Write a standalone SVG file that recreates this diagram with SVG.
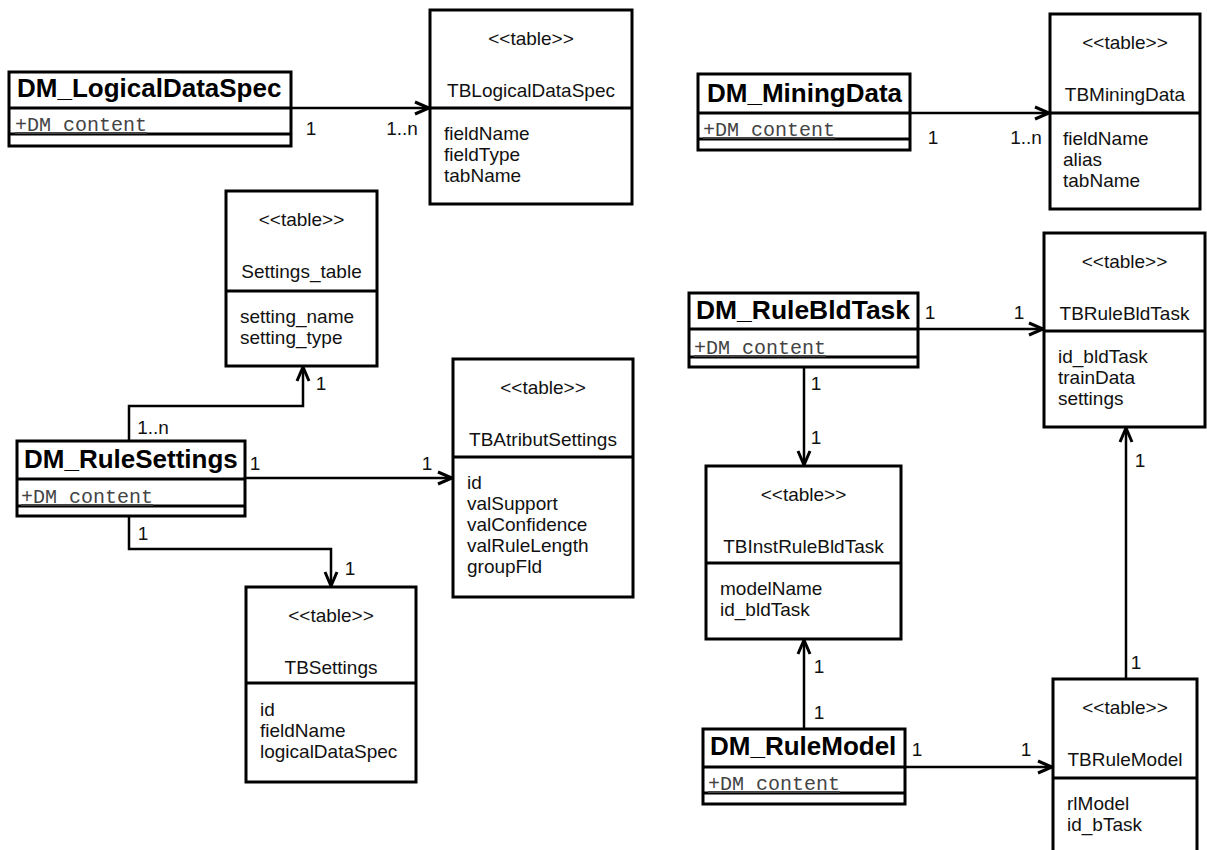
<svg xmlns="http://www.w3.org/2000/svg" width="1207" height="850" viewBox="0 0 1207 850">
<style>
.box{fill:#fff;stroke:#000;stroke-width:3}
.sep{stroke:#000;stroke-width:3}
.t{font-family:"Liberation Sans",Arial,sans-serif;font-size:19px;fill:#111}
.c{text-anchor:middle}
.nm{font-family:"Liberation Sans",Arial,sans-serif;font-size:26px;font-weight:bold;fill:#000}
.at{font-family:"Liberation Mono","Courier New",monospace;font-size:20px;fill:#444;text-decoration:underline}
.cn{fill:none;stroke:#000;stroke-width:2.5}
.lb{font-family:"Liberation Sans",Arial,sans-serif;font-size:19px;fill:#111;text-anchor:middle}
</style>
<defs>
<marker id="arr" markerUnits="userSpaceOnUse" markerWidth="20" markerHeight="20" viewBox="-16 -10 20 20" refX="0" refY="0" orient="auto">
<path d="M-14,-6 L0,0 L-14,6" fill="none" stroke="#000" stroke-width="3"/>
</marker>
</defs>
<rect width="1207" height="850" fill="#fff"/>

<g id="connectors">
<path class="cn" d="M291,108 H429" marker-end="url(#arr)"/>
<text class="lb" x="311" y="135">1</text><text class="lb" x="402" y="135">1..n</text>
<path class="cn" d="M910,113 H1049" marker-end="url(#arr)"/>
<text class="lb" x="933" y="144">1</text><text class="lb" x="1026" y="144">1..n</text>
<path class="cn" d="M129,441 V406 H303 V367" marker-end="url(#arr)"/>
<text class="lb" x="153" y="434">1..n</text><text class="lb" x="321" y="390">1</text>
<path class="cn" d="M245,478 H452" marker-end="url(#arr)"/>
<text class="lb" x="255" y="470">1</text><text class="lb" x="427" y="470">1</text>
<path class="cn" d="M129,516 V549 H331 V586" marker-end="url(#arr)"/>
<text class="lb" x="143" y="540">1</text><text class="lb" x="350" y="575">1</text>
<path class="cn" d="M918,329 H1043" marker-end="url(#arr)"/>
<text class="lb" x="930" y="319">1</text><text class="lb" x="1019" y="319">1</text>
<path class="cn" d="M804,367 V465" marker-end="url(#arr)"/>
<text class="lb" x="816" y="390">1</text><text class="lb" x="816" y="444">1</text>
<path class="cn" d="M804,729 V640" marker-end="url(#arr)"/>
<text class="lb" x="819" y="673">1</text><text class="lb" x="819" y="719">1</text>
<path class="cn" d="M905,767 H1052" marker-end="url(#arr)"/>
<text class="lb" x="917" y="756">1</text><text class="lb" x="1026" y="756">1</text>
<path class="cn" d="M1126,679 V428" marker-end="url(#arr)"/>
<text class="lb" x="1140" y="467">1</text><text class="lb" x="1136" y="669">1</text>
</g>

<g id="DM_LogicalDataSpec">
<rect class="box" x="9" y="72" width="282" height="74"/>
<line class="sep" x1="9" y1="108" x2="291" y2="108"/><line class="sep" x1="9" y1="134" x2="291" y2="134"/>
<text class="nm" x="17" y="97">DM_LogicalDataSpec</text>
<text class="at" x="15" y="131">+DM content</text>
</g>

<g id="TBLogicalDataSpec">
<rect class="box" x="430" y="10" width="202" height="194"/>
<line class="sep" x1="430" y1="108" x2="632" y2="108"/>
<text class="t c" x="531" y="45">&lt;&lt;table&gt;&gt;</text>
<text class="t c" x="531" y="97">TBLogicalDataSpec</text>
<text class="t" x="444" y="140">fieldName</text>
<text class="t" x="444" y="161">fieldType</text>
<text class="t" x="444" y="182">tabName</text>
</g>

<g id="DM_MiningData">
<rect class="box" x="698" y="74" width="212" height="76"/>
<line class="sep" x1="698" y1="113" x2="910" y2="113"/><line class="sep" x1="698" y1="139" x2="910" y2="139"/>
<text class="nm" x="707" y="102">DM_MiningData</text>
<text class="at" x="703" y="136">+DM content</text>
</g>

<g id="TBMiningData">
<rect class="box" x="1050" y="14" width="150" height="195"/>
<line class="sep" x1="1050" y1="113" x2="1200" y2="113"/>
<text class="t c" x="1125" y="49">&lt;&lt;table&gt;&gt;</text>
<text class="t c" x="1125" y="101">TBMiningData</text>
<text class="t" x="1063" y="145">fieldName</text>
<text class="t" x="1063" y="166">alias</text>
<text class="t" x="1063" y="187">tabName</text>
</g>

<g id="Settings_table">
<rect class="box" x="226" y="191" width="151" height="175"/>
<line class="sep" x1="226" y1="291" x2="377" y2="291"/>
<text class="t c" x="301.5" y="226">&lt;&lt;table&gt;&gt;</text>
<text class="t c" x="301.5" y="278">Settings_table</text>
<text class="t" x="240" y="323">setting_name</text>
<text class="t" x="240" y="344">setting_type</text>
</g>

<g id="DM_RuleSettings">
<rect class="box" x="17" y="441" width="228" height="75"/>
<line class="sep" x1="17" y1="479" x2="245" y2="479"/><line class="sep" x1="17" y1="506" x2="245" y2="506"/>
<text class="nm" x="24" y="468">DM_RuleSettings</text>
<text class="at" x="21" y="503">+DM content</text>
</g>

<g id="TBAtributSettings">
<rect class="box" x="453" y="359" width="180" height="238"/>
<line class="sep" x1="453" y1="457" x2="633" y2="457"/>
<text class="t c" x="543" y="394">&lt;&lt;table&gt;&gt;</text>
<text class="t c" x="543" y="446">TBAtributSettings</text>
<text class="t" x="467" y="489">id</text>
<text class="t" x="467" y="510">valSupport</text>
<text class="t" x="467" y="531">valConfidence</text>
<text class="t" x="467" y="552">valRuleLength</text>
<text class="t" x="467" y="573">groupFld</text>
</g>

<g id="TBSettings">
<rect class="box" x="246" y="587" width="170" height="195"/>
<line class="sep" x1="246" y1="683" x2="416" y2="683"/>
<text class="t c" x="331" y="622">&lt;&lt;table&gt;&gt;</text>
<text class="t c" x="331" y="674">TBSettings</text>
<text class="t" x="260" y="716">id</text>
<text class="t" x="260" y="737">fieldName</text>
<text class="t" x="260" y="758">logicalDataSpec</text>
</g>

<g id="DM_RuleBldTask">
<rect class="box" x="689" y="293" width="229" height="74"/>
<line class="sep" x1="689" y1="329" x2="918" y2="329"/><line class="sep" x1="689" y1="357" x2="918" y2="357"/>
<text class="nm" x="696" y="319" textLength="214" lengthAdjust="spacingAndGlyphs">DM_RuleBldTask</text>
<text class="at" x="694" y="354">+DM content</text>
</g>

<g id="TBRuleBldTask">
<rect class="box" x="1044" y="233" width="161" height="194"/>
<line class="sep" x1="1044" y1="331" x2="1205" y2="331"/>
<text class="t c" x="1124.5" y="268">&lt;&lt;table&gt;&gt;</text>
<text class="t c" x="1124.5" y="320">TBRuleBldTask</text>
<text class="t" x="1058" y="363">id_bldTask</text>
<text class="t" x="1058" y="384">trainData</text>
<text class="t" x="1058" y="405">settings</text>
</g>

<g id="TBInstRuleBldTask">
<rect class="box" x="706" y="466" width="195" height="173"/>
<line class="sep" x1="706" y1="563" x2="901" y2="563"/>
<text class="t c" x="803.5" y="501">&lt;&lt;table&gt;&gt;</text>
<text class="t c" x="803.5" y="553">TBInstRuleBldTask</text>
<text class="t" x="720" y="595">modelName</text>
<text class="t" x="720" y="616">id_bldTask</text>
</g>

<g id="DM_RuleModel">
<rect class="box" x="703" y="729" width="202" height="75"/>
<line class="sep" x1="703" y1="767" x2="905" y2="767"/><line class="sep" x1="703" y1="793" x2="905" y2="793"/>
<text class="nm" x="710" y="755">DM_RuleModel</text>
<text class="at" x="708" y="790">+DM content</text>
</g>

<g id="TBRuleModel">
<rect class="box" x="1053" y="679" width="144" height="190"/>
<line class="sep" x1="1053" y1="778" x2="1197" y2="778"/>
<text class="t c" x="1125" y="714">&lt;&lt;table&gt;&gt;</text>
<text class="t c" x="1125" y="766">TBRuleModel</text>
<text class="t" x="1067" y="810">rlModel</text>
<text class="t" x="1067" y="831">id_bTask</text>
</g>
</svg>
